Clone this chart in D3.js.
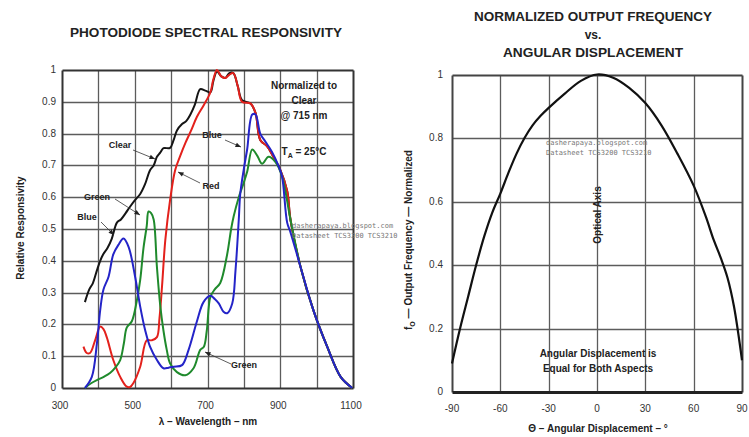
<!DOCTYPE html>
<html>
<head>
<meta charset="utf-8">
<script src="https://cdn.jsdelivr.net/npm/d3@7"></script>
<style>
  body { margin: 0; background: #fff; }
  svg { font-family: "Liberation Sans", Arial, sans-serif; }
  .tick-label { fill: #333; font-size: 10px; }
  .bold { font-weight: bold; fill: #222; }
  .wm { font-family: "DejaVu Sans Mono", monospace; font-size: 7px; fill: #777; }
</style>
</head>
<body>
<div class="chart"></div>
<script>
// ---- left chart data: [wavelength nm, relative responsivity]
const CLEAR = [[363,.27],[375,.31],[385,.33],[396,.37],[405,.40],[413,.42],[425,.44],[437,.47],[451,.52],[462,.53],[475,.55],[487,.57],[500,.59],[515,.61],[528,.64],[542,.685],[552,.70],[561,.727],[570,.74],[579,.754],[597,.755],[607,.78],[616,.81],[630,.83],[642,.84],[653,.86],[665,.89],[680,.94],[694,.935],[708,.93],[716,.965],[726,.995],[738,.98],[749,.975],[760,.99],[771,.99],[783,.95],[795,.905],[818,.895],[832,.865],[845,.78],[864,.76],[881,.727],[900,.686],[919,.62],[928,.53],[956,.38],[991,.245],[1029,.13],[1066,.035],[1098,.0]];
const RED = [[359,.13],[368,.11],[377,.11],[391,.15],[405,.193],[414,.185],[423,.16],[441,.088],[460,.035],[478,.004],[487,.003],[496,.015],[515,.067],[533,.15],[547,.15],[561,.16],[568,.22],[575,.32],[584,.465],[597,.59],[611,.685],[625,.73],[639,.77],[655,.81],[671,.853],[690,.89],[708,.93],[716,.97],[726,1.0],[738,.98],[749,.975],[760,.985],[771,.99],[783,.95],[795,.90],[818,.895],[832,.865],[845,.78],[864,.76],[881,.727],[900,.686],[919,.62],[928,.53],[956,.38],[991,.245],[1029,.13],[1066,.035],[1098,.0]];
const GREEN = [[363,0],[380,.015],[396,.025],[415,.035],[432,.047],[447,.065],[460,.088],[470,.14],[478,.19],[492,.21],[505,.27],[515,.34],[524,.44],[533,.51],[538,.555],[545,.55],[552,.53],[561,.38],[570,.26],[579,.18],[588,.12],[597,.078],[616,.05],[639,.04],[662,.063],[680,.12],[690,.13],[698,.18],[708,.287],[720,.31],[735,.33],[754,.42],[765,.5],[772,.54],[786,.60],[798,.64],[809,.68],[823,.75],[837,.73],[850,.705],[868,.727],[887,.71],[905,.665],[928,.53],[956,.38],[991,.245],[1029,.13],[1066,.035],[1098,.0]];
const BLUE = [[363,0],[382,.035],[396,.14],[405,.245],[414,.31],[428,.35],[441,.42],[455,.45],[469,.47],[483,.444],[501,.35],[515,.256],[529,.18],[542,.13],[561,.088],[579,.062],[593,.064],[607,.067],[630,.072],[648,.12],[671,.21],[689,.27],[708,.29],[720,.28],[731,.266],[744,.24],[754,.235],[768,.266],[777,.37],[786,.53],[790,.61],[800,.69],[809,.75],[823,.86],[832,.86],[845,.80],[859,.775],[877,.743],[896,.696],[905,.665],[919,.52],[928,.49],[956,.38],[991,.245],[1029,.13],[1066,.035],[1098,.0]];
const X_TICKS_L = [300, 500, 700, 900, 1100];
const Y_TICKS_L = [0, 0.1, 0.2, 0.3, 0.4, 0.5, 0.6, 0.7, 0.8, 0.9, 1];
const X_GRID_L = [400, 500, 600, 700, 800, 900, 1000];
const Y_GRID_L = [0.1, 0.2, 0.3, 0.4, 0.5, 0.6, 0.7, 0.8, 0.9];

// ---- right chart data: [angle deg, normalized output frequency]
const ANGLE = [[-90,.09],[-85,.2],[-80,.3],[-75,.4],[-70,.49],[-65,.565],[-60,.625],[-55,.69],[-50,.75],[-45,.80],[-40,.84],[-35,.87],[-30,.895],[-20,.94],[-10,.98],[0,1.0],[10,.99],[20,.958],[30,.91],[40,.84],[50,.75],[60,.65],[67.5,.553],[72.5,.478],[77,.42],[81,.36],[85,.27],[90,.10]];
const X_TICKS_R = [-90, -60, -30, 0, 30, 60, 90];
const Y_TICKS_R = [0, 0.2, 0.4, 0.6, 0.8, 1];
const X_GRID_R = [-60, -30, 0, 30, 60];
const Y_GRID_R = [0.2, 0.4, 0.6, 0.8];

const GRID_COLOR = "#5c5c5c";

const svg = d3.select(".chart").append("svg").attr("width", 749).attr("height", 437);

// draw one straight rule as a path, snapped to the pixel grid
const rule = (x1, y1, x2, y2, color, w) => svg.append("path")
  .attr("d", `M${Math.round(x1) + 0.5},${Math.round(y1) + 0.5}L${Math.round(x2) + 0.5},${Math.round(y2) + 0.5}`)
  .attr("fill", "none").attr("stroke", color).attr("stroke-width", w);

// ================= LEFT CHART =================
const xL = d3.scaleLinear().domain([300, 1100]).range([62, 353]);
const yL = d3.scaleLinear().domain([0, 1]).range([388, 70]);

X_GRID_L.forEach(d => rule(xL(d), yL(0), xL(d), yL(1), GRID_COLOR, 1.3));
Y_GRID_L.forEach(d => rule(xL(300), yL(d), xL(1100), yL(d), GRID_COLOR, 1.3));
rule(xL(300), yL(0), xL(300), yL(1), "#333", 2);
rule(xL(1100), yL(0), xL(1100), yL(1), "#333", 2);
rule(xL(300), yL(1), xL(1100), yL(1), "#333", 2);
rule(xL(300), yL(0), xL(1100), yL(0), "#333", 2);

// Tick labels
svg.append("g").selectAll("text").data(X_TICKS_L).enter().append("text")
  .attr("class", "tick-label").attr("x", d => xL(d) - 2).attr("y", 409)
  .attr("text-anchor", "middle").text(d => d);
svg.append("g").selectAll("text").data(Y_TICKS_L).enter().append("text")
  .attr("class", "tick-label").attr("x", 56).attr("y", d => yL(d) + 3)
  .attr("text-anchor", "end").text(d => d);

// Curves
const lineL = d3.line().x(d => xL(d[0])).y(d => yL(d[1])).curve(d3.curveCatmullRom.alpha(0.5));
[[CLEAR, "#151515"], [RED, "#e3211c"], [GREEN, "#1f8a2c"], [BLUE, "#2424c8"]].forEach(([data, c]) => {
  svg.append("path").datum(data).attr("d", lineL)
    .attr("fill", "none").attr("stroke", c).attr("stroke-width", 2);
});

// Titles and labels
svg.append("text").attr("class", "bold").attr("x", 206).attr("y", 37)
  .attr("text-anchor", "middle").attr("font-size", 12)
  .attr("textLength", 272).attr("lengthAdjust", "spacingAndGlyphs")
  .text("PHOTODIODE SPECTRAL RESPONSIVITY");
svg.append("text").attr("class", "bold").attr("font-size", 10)
  .attr("transform", "translate(24, 228) rotate(-90)").attr("text-anchor", "middle")
  .text("Relative Responsivity");
svg.append("text").attr("class", "bold").attr("font-size", 10)
  .attr("x", 208).attr("y", 425).attr("text-anchor", "middle")
  .text("λ – Wavelength – nm");

const noteL = svg.append("g").attr("class", "bold").attr("font-size", 10).attr("text-anchor", "middle");
noteL.append("text").attr("x", 304).attr("y", 89).text("Normalized to");
noteL.append("text").attr("x", 304).attr("y", 104).text("Clear");
noteL.append("text").attr("x", 304).attr("y", 119).text("@ 715 nm");
const ta = noteL.append("text").attr("x", 304).attr("y", 155);
ta.append("tspan").text("T");
ta.append("tspan").attr("font-size", 7).attr("dy", 3).text("A");
ta.append("tspan").attr("dy", -3).text(" = 25°C");

// Curve callouts: label, label position, line start, arrow tip
const CALLOUTS = [
  ["Clear", 120, 148, [133, 150], [155, 159]],
  ["Red", 211, 189, [200, 183], [178, 172]],
  ["Blue", 212, 138, [225, 140], [241, 147]],
  ["Green", 97, 200, [115, 199], [140, 215]],
  ["Blue", 87, 220, [101, 222], [114, 235]],
  ["Green", 244, 368, [231, 364], [205, 352]]
];
CALLOUTS.forEach(([t, lx, ly, a, b]) => {
  svg.append("text").attr("class", "bold").attr("font-size", 9).attr("x", lx).attr("y", ly)
    .attr("text-anchor", "middle").attr("fill", "#333").text(t);
  svg.append("line").attr("x1", a[0]).attr("y1", a[1]).attr("x2", b[0]).attr("y2", b[1])
    .attr("stroke", "#333").attr("stroke-width", 0.8);
  const ang = Math.atan2(b[1] - a[1], b[0] - a[0]);
  const p1 = [b[0] - 6 * Math.cos(ang - 0.4), b[1] - 6 * Math.sin(ang - 0.4)];
  const p2 = [b[0] - 6 * Math.cos(ang + 0.4), b[1] - 6 * Math.sin(ang + 0.4)];
  svg.append("path").attr("d", `M${b[0]},${b[1]}L${p1[0]},${p1[1]}L${p2[0]},${p2[1]}Z`).attr("fill", "#222");
});

svg.append("text").attr("class", "wm").attr("x", 292).attr("y", 228).text("dasherapaya.blogspot.com");
svg.append("text").attr("class", "wm").attr("x", 292).attr("y", 238).text("Datasheet TCS3200 TCS3210");

// ================= RIGHT CHART =================
const xR = d3.scaleLinear().domain([-90, 90]).range([452, 742]);
const yR = d3.scaleLinear().domain([0, 1]).range([392, 74.5]);

X_GRID_R.forEach(d => rule(xR(d), yR(0), xR(d), yR(1), GRID_COLOR, 1.3));
Y_GRID_R.forEach(d => rule(xR(-90), yR(d), xR(90), yR(d), GRID_COLOR, 1.3));
rule(xR(-90), yR(0), xR(-90), yR(1), "#444", 2);
rule(xR(90), yR(0), xR(90), yR(1), "#444", 2);
rule(xR(-90), yR(1), xR(90), yR(1), "#444", 2);
rule(xR(-90), yR(0), xR(90), yR(0), "#222", 3);

svg.append("g").selectAll("text").data(X_TICKS_R).enter().append("text")
  .attr("class", "tick-label").attr("x", d => xR(d)).attr("y", 412)
  .attr("text-anchor", "middle").text(d => d);
svg.append("g").selectAll("text").data(Y_TICKS_R).enter().append("text")
  .attr("class", "tick-label").attr("x", 443).attr("y", d => yR(d) + 3)
  .attr("text-anchor", "end").text(d => d);

const lineR = d3.line().x(d => xR(d[0])).y(d => yR(d[1])).curve(d3.curveCatmullRom.alpha(0.5));
svg.append("path").datum(ANGLE).attr("d", lineR)
  .attr("fill", "none").attr("stroke", "#111").attr("stroke-width", 2.2);

const titleR = svg.append("g").attr("class", "bold").attr("font-size", 12).attr("text-anchor", "middle");
titleR.append("text").attr("x", 593).attr("y", 21)
  .attr("textLength", 238).attr("lengthAdjust", "spacingAndGlyphs").text("NORMALIZED OUTPUT FREQUENCY");
titleR.append("text").attr("x", 593).attr("y", 39).text("vs.");
titleR.append("text").attr("x", 593).attr("y", 57)
  .attr("textLength", 180).attr("lengthAdjust", "spacingAndGlyphs").text("ANGULAR DISPLACEMENT");

const yLabR = svg.append("text").attr("class", "bold").attr("font-size", 10)
  .attr("transform", "translate(412, 240) rotate(-90)").attr("text-anchor", "middle");
yLabR.append("tspan").text("f");
yLabR.append("tspan").attr("font-size", 7).attr("dy", 3).text("O");
yLabR.append("tspan").attr("dy", -3).text(" — Output Frequency — Normalized");

svg.append("text").attr("class", "bold").attr("font-size", 10)
  .attr("x", 598).attr("y", 432).attr("text-anchor", "middle")
  .text("Θ – Angular Displacement – °");

svg.append("text").attr("class", "bold").attr("font-size", 10)
  .attr("transform", `translate(${xR(0) + 4}, 215) rotate(-90)`).attr("text-anchor", "middle")
  .text("Optical Axis");
svg.append("text").attr("class", "bold").attr("font-size", 10)
  .attr("x", 598).attr("y", 357).attr("text-anchor", "middle").text("Angular Displacement is");
svg.append("text").attr("class", "bold").attr("font-size", 10)
  .attr("x", 598).attr("y", 372).attr("text-anchor", "middle").text("Equal for Both Aspects");

svg.append("text").attr("class", "wm").attr("x", 546).attr("y", 145).text("dasherapaya.blogspot.com");
svg.append("text").attr("class", "wm").attr("x", 546).attr("y", 155).text("Datasheet TCS3200 TCS3210");
</script>
</body>
</html>
